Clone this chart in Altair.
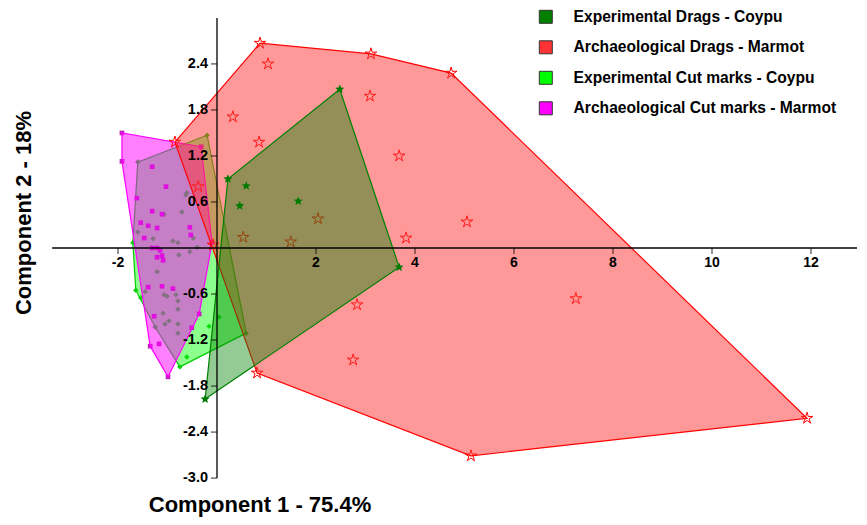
import math
import altair as alt
import pandas as pd

# ---------------- data ----------------
groups = ["Experimental Drags - Coypu", "Archaeological Drags - Marmot",
          "Experimental Cut marks - Coypu", "Archaeological Cut marks - Marmot"]
legend_colors = ["#007F00", "#FF3333", "#00FF00", "#FF00FF"]

# Archaeological Drags - Marmot
arch_drag_x = [0.87, 3.11, 4.73, 11.92, 5.13, 0.81, -0.85, 1.03, 0.32, 0.85, 3.09, 3.68,
               5.05, 3.82, 7.25, 2.83, 2.75, 2.04, 0.53, 1.49, -0.08, -0.38]
arch_drag_y = [2.67, 2.53, 2.28, -2.22, -2.71, -1.63, 1.38, 2.40, 1.71, 1.38, 1.98, 1.20,
               0.34, 0.13, -0.66, -0.74, -1.46, 0.38, 0.14, 0.08, 0.04, 0.80]

# Experimental Drags - Coypu
exp_drag_x = [2.48, 3.68, -0.24, 0.22, 0.59, 0.46, 1.64]
exp_drag_y = [2.07, -0.25, -1.97, 0.90, 0.81, 0.55, 0.61]

# Experimental Cut marks - Coypu
exp_cut_x = [-0.20, -1.60, -0.61, -0.63, -0.71, -1.07, -1.60, -1.29, -0.89, -0.79, -0.40, -0.48,
             -1.70, -0.55, -0.77, -1.21, -1.64, -1.45, -1.54, -1.07, -1.01, -0.83, -0.79, -0.79,
             -1.09, -1.25, -1.05, -0.97, -0.79, -0.79, -0.75, -0.61, -0.16, 0.04, 0.59]
exp_cut_y = [1.47, 1.12, 0.72, 0.69, 0.47, 0.44, 0.21, 0.12, 0.09, 0.07, 0.01, 0.13,
             0.07, -0.05, -0.09, -0.31, -0.55, -0.57, -0.65, -0.61, -0.63, -0.61, -0.69, -0.80,
             -0.85, -1.03, -0.99, -0.95, -0.99, -1.11, -1.55, -1.42, -1.02, -0.90, -1.11]

# Archaeological Cut marks - Marmot
arch_cut_x = [-1.92, -1.92, -1.31, -1.03, -0.32, -1.62, -1.31, -1.11, -1.54, -1.39, -1.21, -0.55,
              -1.47, -0.53, -1.31, -1.21, -1.15, -1.21, -1.11, -1.09, -1.39, -1.11, -0.89, -1.27,
              -0.36, -0.51, -1.35, -1.17, -0.99, -0.10]
arch_cut_y = [1.50, 1.13, 1.06, 0.80, 1.32, 0.65, 0.48, 0.44, 0.33, 0.29, 0.26, 0.27,
              0.13, 0.17, 0.00, 0.00, -0.03, -0.12, -0.10, -0.16, -0.51, -0.50, -0.53, -0.89,
              -0.86, -1.04, -1.28, -1.25, -1.68, 0.07]

x_ticks = [-2, 2, 4, 6, 8, 10, 12]
x_tick_labels = ["-2", "2", "4", "6", "8", "10", "12"]
y_ticks = [2.4, 1.8, 1.2, 0.6, -0.6, -1.2, -1.8, -2.4, -3.0]
y_tick_labels = ["2.4", "1.8", "1.2", "0.6", "-0.6", "-1.2", "-1.8", "-2.4", "-3.0"]

x_title = "Component 1 - 75.4%"
y_title = "Component 2 - 18%"

# ---------------- layout ----------------
W, H = 849, 509
X0PX, XUNIT = 209.0, 49.5
Y0PX, YUNIT = 240.0, 76.7
XMIN, XMAX = -X0PX / XUNIT, (W - X0PX) / XUNIT
YMAX, YMIN = Y0PX / YUNIT, -(H - Y0PX) / YUNIT
xs = alt.Scale(domain=[XMIN, XMAX], nice=False, zero=False)
ys = alt.Scale(domain=[YMIN, YMAX], nice=False, zero=False)
FONT = "Liberation Sans"


def hull(xv, yv):
    pts = sorted(set(zip(xv, yv)))

    def cross(o, a, b):
        return (a[0] - o[0]) * (b[1] - o[1]) - (a[1] - o[1]) * (b[0] - o[0])

    lower, upper = [], []
    for p in pts:
        while len(lower) >= 2 and cross(lower[-2], lower[-1], p) <= 0:
            lower.pop()
        lower.append(p)
    for p in reversed(pts):
        while len(upper) >= 2 and cross(upper[-2], upper[-1], p) <= 0:
            upper.pop()
        upper.append(p)
    return lower[:-1] + upper[:-1]


def star_path(inner):
    parts = []
    for k in range(10):
        r = 1.0 if k % 2 == 0 else inner
        a = -math.pi / 2 + k * math.pi / 5
        parts.append(f"{r * math.cos(a):.3f},{r * math.sin(a):.3f}")
    return "M" + "L".join(parts) + "Z"


def pts_df(xv, yv):
    return pd.DataFrame({"x": xv, "y": yv})


def hull_df(xv, yv):
    h = hull(xv, yv)
    return pd.DataFrame({"x": [p[0] for p in h], "y": [p[1] for p in h], "i": list(range(len(h)))})


def hull_layer(xv, yv, fill, stroke, op):
    return alt.Chart(hull_df(xv, yv)).mark_line(
        interpolate="linear-closed", fill=fill, fillOpacity=op, stroke=stroke, strokeWidth=1.2
    ).encode(
        x=alt.X("x:Q", scale=xs, axis=None),
        y=alt.Y("y:Q", scale=ys, axis=None),
        order=alt.Order("i:Q"),
    )


def point_layer(xv, yv, **kw):
    return alt.Chart(pts_df(xv, yv)).mark_point(**kw).encode(
        x=alt.X("x:Q", scale=xs, axis=None),
        y=alt.Y("y:Q", scale=ys, axis=None),
    )


lime_pts = point_layer(exp_cut_x, exp_cut_y, shape="diamond", filled=True, size=30,
                       color="#11CC11", opacity=1)
lime_hull = hull_layer(exp_cut_x, exp_cut_y, "#00FF00", "#00CC00", 0.45)
mag_pts = point_layer(arch_cut_x, arch_cut_y, shape="square", filled=True, size=22,
                      color="#C020C0", opacity=1)
mag_hull = hull_layer(arch_cut_x, arch_cut_y, "#FF00FF", "#FF00FF", 0.5)
red_pts = point_layer(arch_drag_x, arch_drag_y, shape=star_path(0.35), filled=False, size=150,
                      color="#FF0000", strokeWidth=1, opacity=1)
red_hull = hull_layer(arch_drag_x, arch_drag_y, "#FF3333", "#FF0000", 0.5)
grn_pts = point_layer(exp_drag_x, exp_drag_y, shape=star_path(0.45), filled=True, size=90,
                      color="#007700", opacity=1)
grn_hull = hull_layer(exp_drag_x, exp_drag_y, "#008000", "#008000", 0.42)

# axes drawn through the origin
xaxis = alt.Chart(pd.DataFrame({"x": [-3.33], "x2": [XMAX], "y": [0.0]})).mark_rule(
    color="black", strokeWidth=1.3).encode(
    x=alt.X("x:Q", scale=xs, axis=None), x2="x2:Q", y=alt.Y("y:Q", scale=ys, axis=None))
yaxis = alt.Chart(pd.DataFrame({"x": [0.0], "y": [3.0], "y2": [-3.0]})).mark_rule(
    color="black", strokeWidth=1.3).encode(
    x=alt.X("x:Q", scale=xs, axis=None), y=alt.Y("y:Q", scale=ys, axis=None), y2="y2:Q")

xt_df = pd.DataFrame({"x": x_ticks, "y": [0.0] * len(x_ticks), "t": x_tick_labels})
yt_df = pd.DataFrame({"x": [0.0] * len(y_ticks), "y": y_ticks, "t": y_tick_labels})

xticks = alt.Chart(xt_df).mark_tick(orient="vertical", size=6, thickness=1.2, yOffset=3,
                                    color="black").encode(
    x=alt.X("x:Q", scale=xs, axis=None), y=alt.Y("y:Q", scale=ys, axis=None))
yticks = alt.Chart(yt_df).mark_tick(orient="horizontal", size=6, thickness=1.2, xOffset=-3,
                                    color="black").encode(
    x=alt.X("x:Q", scale=xs, axis=None), y=alt.Y("y:Q", scale=ys, axis=None))
xlabels = alt.Chart(xt_df).mark_text(dy=15, font=FONT, fontSize=14, fontWeight="bold",
                                     color="black", align="center", baseline="middle").encode(
    x=alt.X("x:Q", scale=xs, axis=None), y=alt.Y("y:Q", scale=ys, axis=None), text="t:N")
ylabels = alt.Chart(yt_df).mark_text(dx=-9, font=FONT, fontSize=14.5, fontWeight="bold",
                                     color="black", align="right", baseline="middle").encode(
    x=alt.X("x:Q", scale=xs, axis=None), y=alt.Y("y:Q", scale=ys, axis=None), text="t:N")

xtitle = alt.Chart(pd.DataFrame({"t": [x_title]})).mark_text(
    font=FONT, fontSize=22, fontWeight="bold", color="black", align="center", baseline="middle"
).encode(x=alt.value(252), y=alt.value(497), text="t:N")
ytitle = alt.Chart(pd.DataFrame({"t": [y_title]})).mark_text(
    font=FONT, fontSize=22, fontWeight="bold", color="black", align="center", baseline="middle",
    angle=270
).encode(x=alt.value(16), y=alt.value(205), text="t:N")

# legend (from an invisible layer of the four groups)
leg_df = pd.DataFrame({"g": groups, "x": [0.0] * 4, "y": [0.0] * 4})
legend_layer = alt.Chart(leg_df).mark_square(opacity=0).encode(
    x=alt.X("x:Q", scale=xs, axis=None),
    y=alt.Y("y:Q", scale=ys, axis=None),
    fill=alt.Fill("g:N", scale=alt.Scale(domain=groups, range=legend_colors),
                  legend=alt.Legend(orient="none", legendX=530, legendY=1, title=None,
                                    symbolType="square", symbolSize=169,
                                    symbolStrokeColor="#333333", symbolStrokeWidth=1,
                                    symbolOpacity=1, labelFont=FONT, labelFontSize=15.6,
                                    labelFontWeight="bold", labelColor="black",
                                    labelOffset=20, rowPadding=12.5, padding=0,
                                    labelLimit=400)),
)

chart = alt.layer(
    lime_pts, lime_hull, mag_pts, mag_hull, red_pts, red_hull, grn_pts, grn_hull,
    xaxis, yaxis, xticks, yticks, xlabels, ylabels, xtitle, ytitle, legend_layer
).properties(width=W, height=H, autosize="none", padding=0).configure_view(stroke=None)

chart.save("out.html", embed_options={"renderer": "svg", "actions": False})
